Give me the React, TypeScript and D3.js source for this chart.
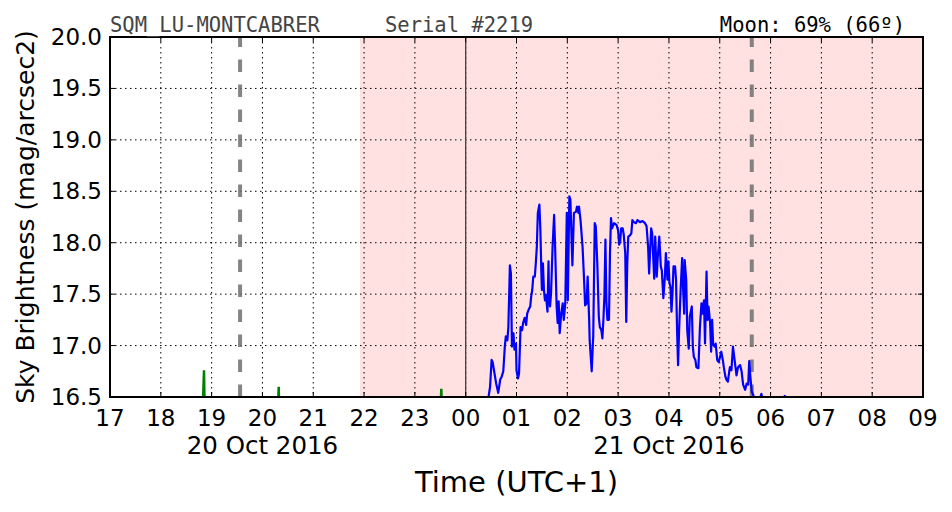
import React from "react";
import * as d3 from "d3";

// hours since 20 Oct 2016 00:00 (UTC+1)
const xTickHours = [17, 18, 19, 20, 21, 22, 23, 24, 25, 26, 27, 28, 29, 30, 31, 32, 33];
const xTickLabels = ["17", "18", "19", "20", "21", "22", "23", "00", "01", "02", "03", "04", "05", "06", "07", "08", "09"];
const yTicks = [16.5, 17.0, 17.5, 18.0, 18.5, 19.0, 19.5, 20.0];
const dateLabels = [
  { hour: 20, text: "20 Oct 2016" },
  { hour: 28, text: "21 Oct 2016" },
];
const nightStart = 21.92;
const nightEnd = 33;
const twilightLines = [19.56, 29.63];
const midnight = 24;

const blueHours = [
  24.36, 24.45, 24.48, 24.51, 24.53, 24.56, 24.6, 24.64, 24.68, 24.71, 24.74, 24.77, 24.79, 24.82, 24.84, 24.87, 24.89, 24.91, 24.94, 24.96,
  24.99, 25.0, 25.03, 25.05, 25.08, 25.11, 25.13, 25.16, 25.19, 25.21, 25.24, 25.27, 25.29, 25.31, 25.33, 25.36, 25.38, 25.4, 25.42, 25.45,
  25.47, 25.49, 25.5, 25.52, 25.54, 25.56, 25.58, 25.61, 25.63, 25.64, 25.66, 25.68, 25.71, 25.74, 25.76, 25.79, 25.81, 25.83, 25.85, 25.88,
  25.91, 25.93, 25.96, 25.99, 26.01, 26.04, 26.06, 26.1, 26.13, 26.17, 26.19, 26.22, 26.23, 26.26, 26.3, 26.33, 26.35, 26.38, 26.4, 26.43,
  26.44, 26.48, 26.51, 26.54, 26.56, 26.59, 26.62, 26.64, 26.67, 26.69, 26.71, 26.73, 26.75, 26.77, 26.79, 26.82, 26.84, 26.86, 26.88, 26.92,
  26.97, 27.0, 27.02, 27.04, 27.06, 27.09, 27.11, 27.14, 27.16, 27.18, 27.2, 27.23, 27.26, 27.28, 27.31, 27.35, 27.38, 27.43, 27.48, 27.53,
  27.56, 27.59, 27.61, 27.65, 27.67, 27.71, 27.73, 27.76, 27.78, 27.81, 27.84, 27.86, 27.89, 27.92, 27.94, 27.97, 27.99, 28.01, 28.03, 28.05,
  28.07, 28.09, 28.12, 28.14, 28.16, 28.18, 28.2, 28.23, 28.26, 28.28, 28.3, 28.31, 28.34, 28.36, 28.39, 28.41, 28.45, 28.47, 28.49, 28.52,
  28.54, 28.58, 28.61, 28.64, 28.66, 28.69, 28.71, 28.74, 28.76, 28.78, 28.81, 28.83, 28.85, 28.87, 28.9, 28.92, 28.95, 28.98, 29.0, 29.03,
  29.06, 29.08, 29.11, 29.13, 29.16, 29.19, 29.2, 29.23, 29.26, 29.3, 29.33, 29.36, 29.4, 29.43, 29.46, 29.5, 29.53, 29.56, 29.58, 29.6,
  29.63, 29.66, 29.69, 29.75, 29.82, 29.87, 30.09, 30.28, 30.34, 31.0,
];
const blueMags = [
  16.37, 16.5, 16.6, 16.86, 16.84, 16.75, 16.63, 16.54, 16.67, 16.7, 16.75, 16.99, 17.09, 17.05, 17.18, 17.78, 17.7, 16.99, 17.12, 16.96,
  17.02, 16.76, 16.68, 16.73, 17.18, 17.15, 17.22, 17.27, 17.2, 17.31, 17.35, 17.38, 17.48, 17.54, 17.67, 17.67, 17.8, 17.96, 18.29, 18.37,
  18.12, 17.7, 17.54, 17.8, 17.54, 17.44, 17.49, 17.33, 17.82, 17.48, 17.38, 17.51, 17.96, 18.27, 17.96, 17.38, 17.22, 17.43, 17.12, 17.31,
  17.41, 17.25, 17.41, 18.29, 17.44, 18.45, 18.42, 17.78, 18.29, 18.3, 18.35, 18.29, 18.35, 18.22, 17.96, 17.64, 17.39, 17.41, 17.67, 17.25,
  17.05, 16.75, 17.09, 18.19, 18.16, 17.8, 17.28, 17.18, 17.15, 17.07, 17.25, 17.48, 18.03, 17.41, 17.25, 17.25, 17.9, 18.24, 18.14, 18.19,
  18.17, 18.12, 17.98, 18.01, 18.14, 18.14, 18.08, 17.9, 17.23, 17.8, 18.06, 18.07, 18.09, 18.22, 18.2, 18.19, 18.22, 18.2, 18.21, 18.19,
  18.16, 17.96, 17.7, 18.14, 18.09, 17.65, 18.06, 17.67, 17.86, 18.06, 17.77, 17.73, 17.46, 17.67, 17.9, 17.64, 17.82, 17.61, 17.57, 17.33,
  17.51, 17.77, 17.77, 17.64, 17.15, 16.81, 17.15, 17.54, 17.85, 17.54, 17.31, 17.83, 17.64, 17.15, 16.97, 17.28, 17.38, 16.99, 16.89, 16.86,
  16.79, 16.78, 17.18, 17.41, 17.31, 17.44, 17.02, 17.72, 17.25, 17.38, 17.22, 16.94, 17.25, 17.01, 16.99, 17.02, 16.86, 16.84, 16.88, 16.94,
  16.86, 16.79, 16.7, 16.67, 16.65, 16.76, 16.79, 16.76, 16.99, 16.83, 16.71, 16.79, 16.81, 16.75, 16.62, 16.57, 16.63, 16.62, 16.85, 16.71,
  16.55, 16.52, 16.45, 16.42, 16.53, 16.42, 16.37, 16.51, 16.37, 16.32,
];

// short green spikes (hour, mag)
const greenSpikes = [
  [[18.82, 16.3], [18.85, 16.76], [18.865, 16.3]],
  [[20.3, 16.3], [20.32, 16.6], [20.335, 16.3]],
  [[23.5, 16.3], [23.52, 16.58], [23.54, 16.3]],
];

const W = 952;
const H = 512;
const M = { left: 110, right: 923, top: 37, bottom: 397 };

export default function App() {
  const x = d3.scaleLinear().domain([17, 33]).range([M.left, M.right]);
  const y = d3.scaleLinear().domain([16.5, 20.0]).range([M.bottom, M.top]);
  const line = d3
    .line<[number, number]>()
    .x((d) => x(d[0]))
    .y((d) => y(d[1]));
  const bluePts: [number, number][] = blueHours.map((h, i) => [h, blueMags[i]]);
  const sans = "'DejaVu Sans', sans-serif";
  const mono = "'DejaVu Sans Mono', monospace";
  const tickLen = 5;

  return (
    <svg width={W} height={H} style={{ position: "absolute", left: 0, top: 0, background: "#fff" }}>
      <defs>
        <clipPath id="plotclip">
          <rect x={M.left} y={M.top} width={M.right - M.left} height={M.bottom - M.top} />
        </clipPath>
      </defs>
      <rect x={0} y={0} width={W} height={H} fill="#fff" />
      {/* night region */}
      <rect
        x={x(nightStart)}
        y={M.top}
        width={x(nightEnd) - x(nightStart)}
        height={M.bottom - M.top}
        fill="#ffe1e2"
      />
      {/* grid */}
      <g stroke="#000" strokeWidth={1} strokeDasharray="1.5,3.5">
        {xTickHours.slice(1, -1).map((h) => (
          <line key={"gx" + h} x1={x(h)} x2={x(h)} y1={M.top} y2={M.bottom} />
        ))}
        {yTicks.slice(1, -1).map((v) => (
          <line key={"gy" + v} x1={M.left} x2={M.right} y1={y(v)} y2={y(v)} />
        ))}
      </g>
      {/* twilight dashed lines */}
      {twilightLines.map((h) => (
        <line
          key={"tw" + h}
          x1={x(h)}
          x2={x(h)}
          y1={M.bottom}
          y2={M.top}
          stroke="#6e6e6e"
          strokeOpacity={0.85}
          strokeWidth={4}
          strokeDasharray="12.5,12.5"
        />
      ))}
      {/* midnight */}
      <line x1={x(midnight)} x2={x(midnight)} y1={M.top} y2={M.bottom} stroke="#404040" strokeWidth={1.3} />
      <g clipPath="url(#plotclip)">
        {greenSpikes.map((s, i) => (
          <path key={"g" + i} d={line(s as [number, number][]) || ""} fill="none" stroke="#008000" strokeWidth={2.5} />
        ))}
        <path d={line(bluePts) || ""} fill="none" stroke="#0000ff" strokeWidth={2.2} strokeLinejoin="round" />
      </g>
      {/* frame */}
      <rect
        x={M.left}
        y={M.top}
        width={M.right - M.left}
        height={M.bottom - M.top}
        fill="none"
        stroke="#000"
        strokeWidth={2}
      />
      {/* ticks */}
      <g stroke="#000" strokeWidth={1}>
        {xTickHours.map((h) => (
          <g key={"tx" + h}>
            <line x1={x(h)} x2={x(h)} y1={M.bottom} y2={M.bottom - tickLen} />
            <line x1={x(h)} x2={x(h)} y1={M.top} y2={M.top + tickLen} />
          </g>
        ))}
        {yTicks.map((v) => (
          <g key={"ty" + v}>
            <line x1={M.left} x2={M.left + tickLen} y1={y(v)} y2={y(v)} />
            <line x1={M.right} x2={M.right - tickLen} y1={y(v)} y2={y(v)} />
          </g>
        ))}
      </g>
      {/* tick labels */}
      <g fontFamily={sans} fontSize={23} fill="#000">
        {xTickHours.map((h, i) => (
          <text key={"lx" + h} x={x(h)} y={426} textAnchor="middle">
            {xTickLabels[i]}
          </text>
        ))}
        {yTicks.map((v) => (
          <text key={"ly" + v} x={102} y={y(v) + 8} textAnchor="end">
            {v.toFixed(1)}
          </text>
        ))}
        {dateLabels.map((d) => (
          <text key={d.text} x={x(d.hour)} y={454} textAnchor="middle" fontSize={24.5}>
            {d.text}
          </text>
        ))}
      </g>
      <text x={(M.left + M.right) / 2} y={492} textAnchor="middle" fontFamily={sans} fontSize={29}>
        Time (UTC+1)
      </text>
      <text
        transform={`translate(34,${(M.top + M.bottom) / 2}) rotate(-90)`}
        textAnchor="middle"
        fontFamily={sans}
        fontSize={25}
      >
        Sky Brightness (mag/arcsec2)
      </text>
      {/* header */}
      <g fontFamily={mono} fontSize={20.5}>
        <text x={110} y={31.5} fill="#444">
          SQM_LU-MONTCABRER
        </text>
        <text x={385} y={31.5} fill="#444">
          Serial #2219
        </text>
        <text x={905} y={31.5} fill="#000" textAnchor="end">
          Moon: 69% (66º)
        </text>
      </g>
    </svg>
  );
}
